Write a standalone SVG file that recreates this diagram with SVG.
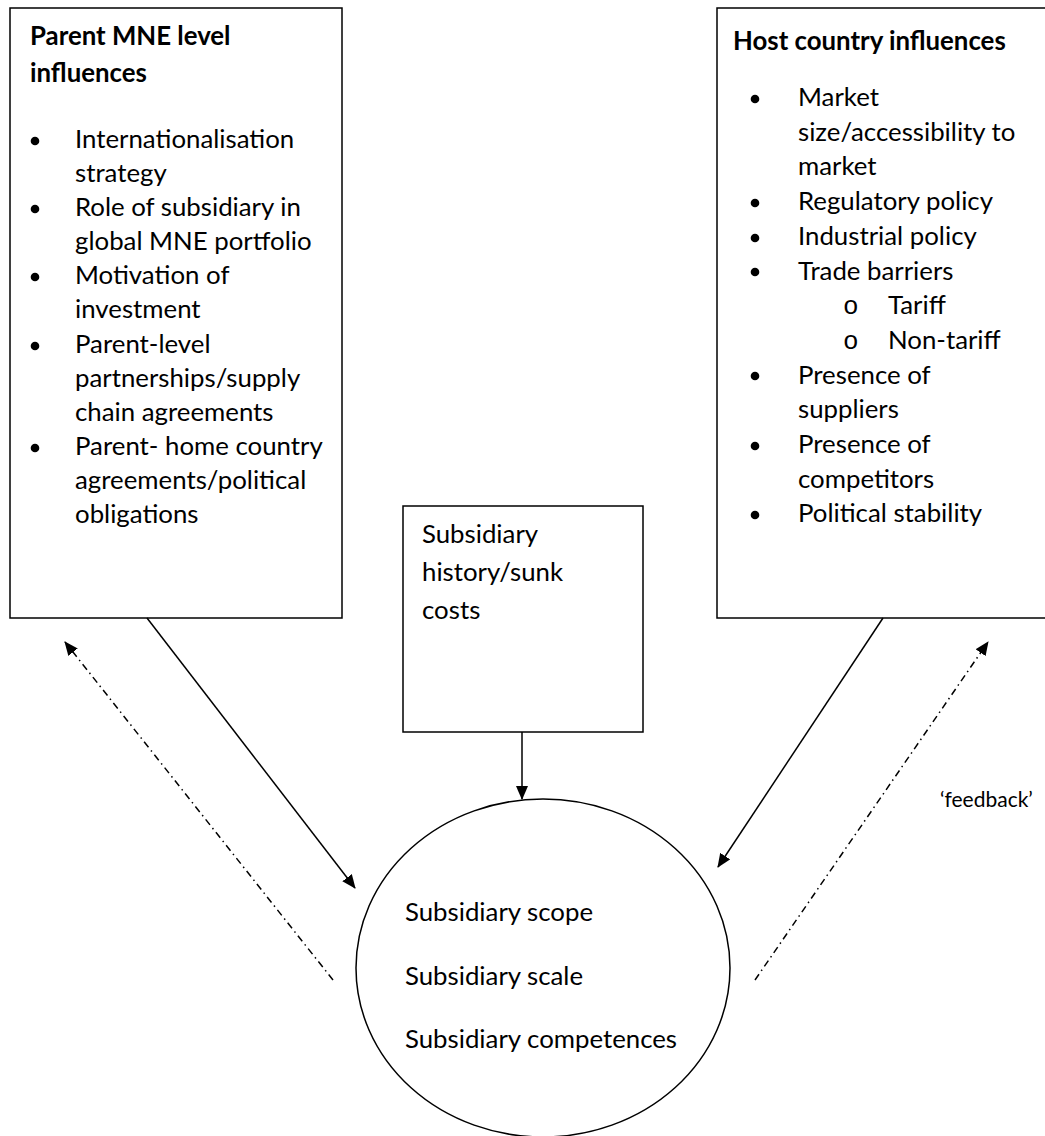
<svg xmlns="http://www.w3.org/2000/svg" width="1045" height="1136" viewBox="0 0 1045 1136">
<style>
.t{font-family:Lato,"Liberation Sans",sans-serif;font-size:25.8px;fill:#000}
.b{font-weight:bold}
.box{fill:#fff;stroke:#000;stroke-width:1.5}
.dot{fill:#000}
.sub{font-family:"Liberation Mono",monospace;font-size:26px;fill:#000}
.conn{stroke:#000;stroke-width:1.5;fill:none}
.dd{stroke-dasharray:7 4 1.5 4}
.fb{font-size:21px}
</style>
<defs>
<marker id="ah" markerUnits="userSpaceOnUse" markerWidth="14" markerHeight="12" refX="13" refY="6" orient="auto"><path d="M0,0 L14,6 L0,12 z" fill="#000"/></marker>
</defs>
<rect width="1045" height="1136" fill="#fff"/>

<g id="parent-mne">
<rect class="box" x="10" y="8" width="332" height="610"/>
<text class="t b" x="30" y="45">Parent MNE level</text>
<text class="t b" x="30" y="82">influences</text>
<circle class="dot" cx="35" cy="141" r="4.3"/>
<circle class="dot" cx="35" cy="209" r="4.3"/>
<circle class="dot" cx="35" cy="277" r="4.3"/>
<circle class="dot" cx="35" cy="346" r="4.3"/>
<circle class="dot" cx="35" cy="448" r="4.3"/>
<text class="t" x="75" y="148">Internationalisation</text>
<text class="t" x="75" y="182">strategy</text>
<text class="t" x="75" y="216">Role of subsidiary in</text>
<text class="t" x="75" y="250">global MNE portfolio</text>
<text class="t" x="75" y="284">Motivation of</text>
<text class="t" x="75" y="318">investment</text>
<text class="t" x="75" y="353">Parent-level</text>
<text class="t" x="75" y="387">partnerships/supply</text>
<text class="t" x="75" y="421">chain agreements</text>
<text class="t" x="75" y="455">Parent- home country</text>
<text class="t" x="75" y="489">agreements/political</text>
<text class="t" x="75" y="523">obligations</text>
</g>

<g id="host-country">
<rect class="box" x="717" y="8" width="345" height="610"/>
<text class="t b" x="733" y="50">Host country influences</text>
<circle class="dot" cx="755" cy="99" r="4.3"/>
<circle class="dot" cx="755" cy="203" r="4.3"/>
<circle class="dot" cx="755" cy="238" r="4.3"/>
<circle class="dot" cx="755" cy="272" r="4.3"/>
<circle class="dot" cx="755" cy="376" r="4.3"/>
<circle class="dot" cx="755" cy="446" r="4.3"/>
<circle class="dot" cx="755" cy="515" r="4.3"/>
<text class="t" x="798" y="106">Market</text>
<text class="t" x="798" y="141">size/accessibility to</text>
<text class="t" x="798" y="175">market</text>
<text class="t" x="798" y="210">Regulatory policy</text>
<text class="t" x="798" y="245">Industrial policy</text>
<text class="t" x="798" y="280">Trade barriers</text>
<text class="sub" x="843" y="314">o</text>
<text class="t" x="888" y="314">Tariff</text>
<text class="sub" x="843" y="349">o</text>
<text class="t" x="888" y="349">Non-tariff</text>
<text class="t" x="798" y="384">Presence of</text>
<text class="t" x="798" y="418">suppliers</text>
<text class="t" x="798" y="453">Presence of</text>
<text class="t" x="798" y="488">competitors</text>
<text class="t" x="798" y="522">Political stability</text>
</g>

<g id="subsidiary-history">
<rect class="box" x="403" y="506" width="240" height="226"/>
<text class="t" x="422" y="543">Subsidiary</text>
<text class="t" x="422" y="581">history/sunk</text>
<text class="t" x="422" y="619">costs</text>
</g>

<g id="subsidiary-outcomes">
<ellipse class="box" cx="543" cy="968" rx="187" ry="169"/>
<text class="t" x="405" y="921">Subsidiary scope</text>
<text class="t" x="405" y="985">Subsidiary scale</text>
<text class="t" x="405" y="1048">Subsidiary competences</text>
</g>

<g id="connectors">
<line class="conn" x1="147" y1="618" x2="355" y2="888" marker-end="url(#ah)"/>
<line class="conn" x1="883" y1="618" x2="718" y2="867" marker-end="url(#ah)"/>
<line class="conn" x1="522" y1="732" x2="522" y2="799" marker-end="url(#ah)"/>
<line class="conn dd" x1="333" y1="980" x2="65" y2="642" marker-end="url(#ah)"/>
<line class="conn dd" x1="755" y1="980" x2="988" y2="642" marker-end="url(#ah)"/>
<text class="t fb" x="940" y="807">‘feedback’</text>
</g>
</svg>
